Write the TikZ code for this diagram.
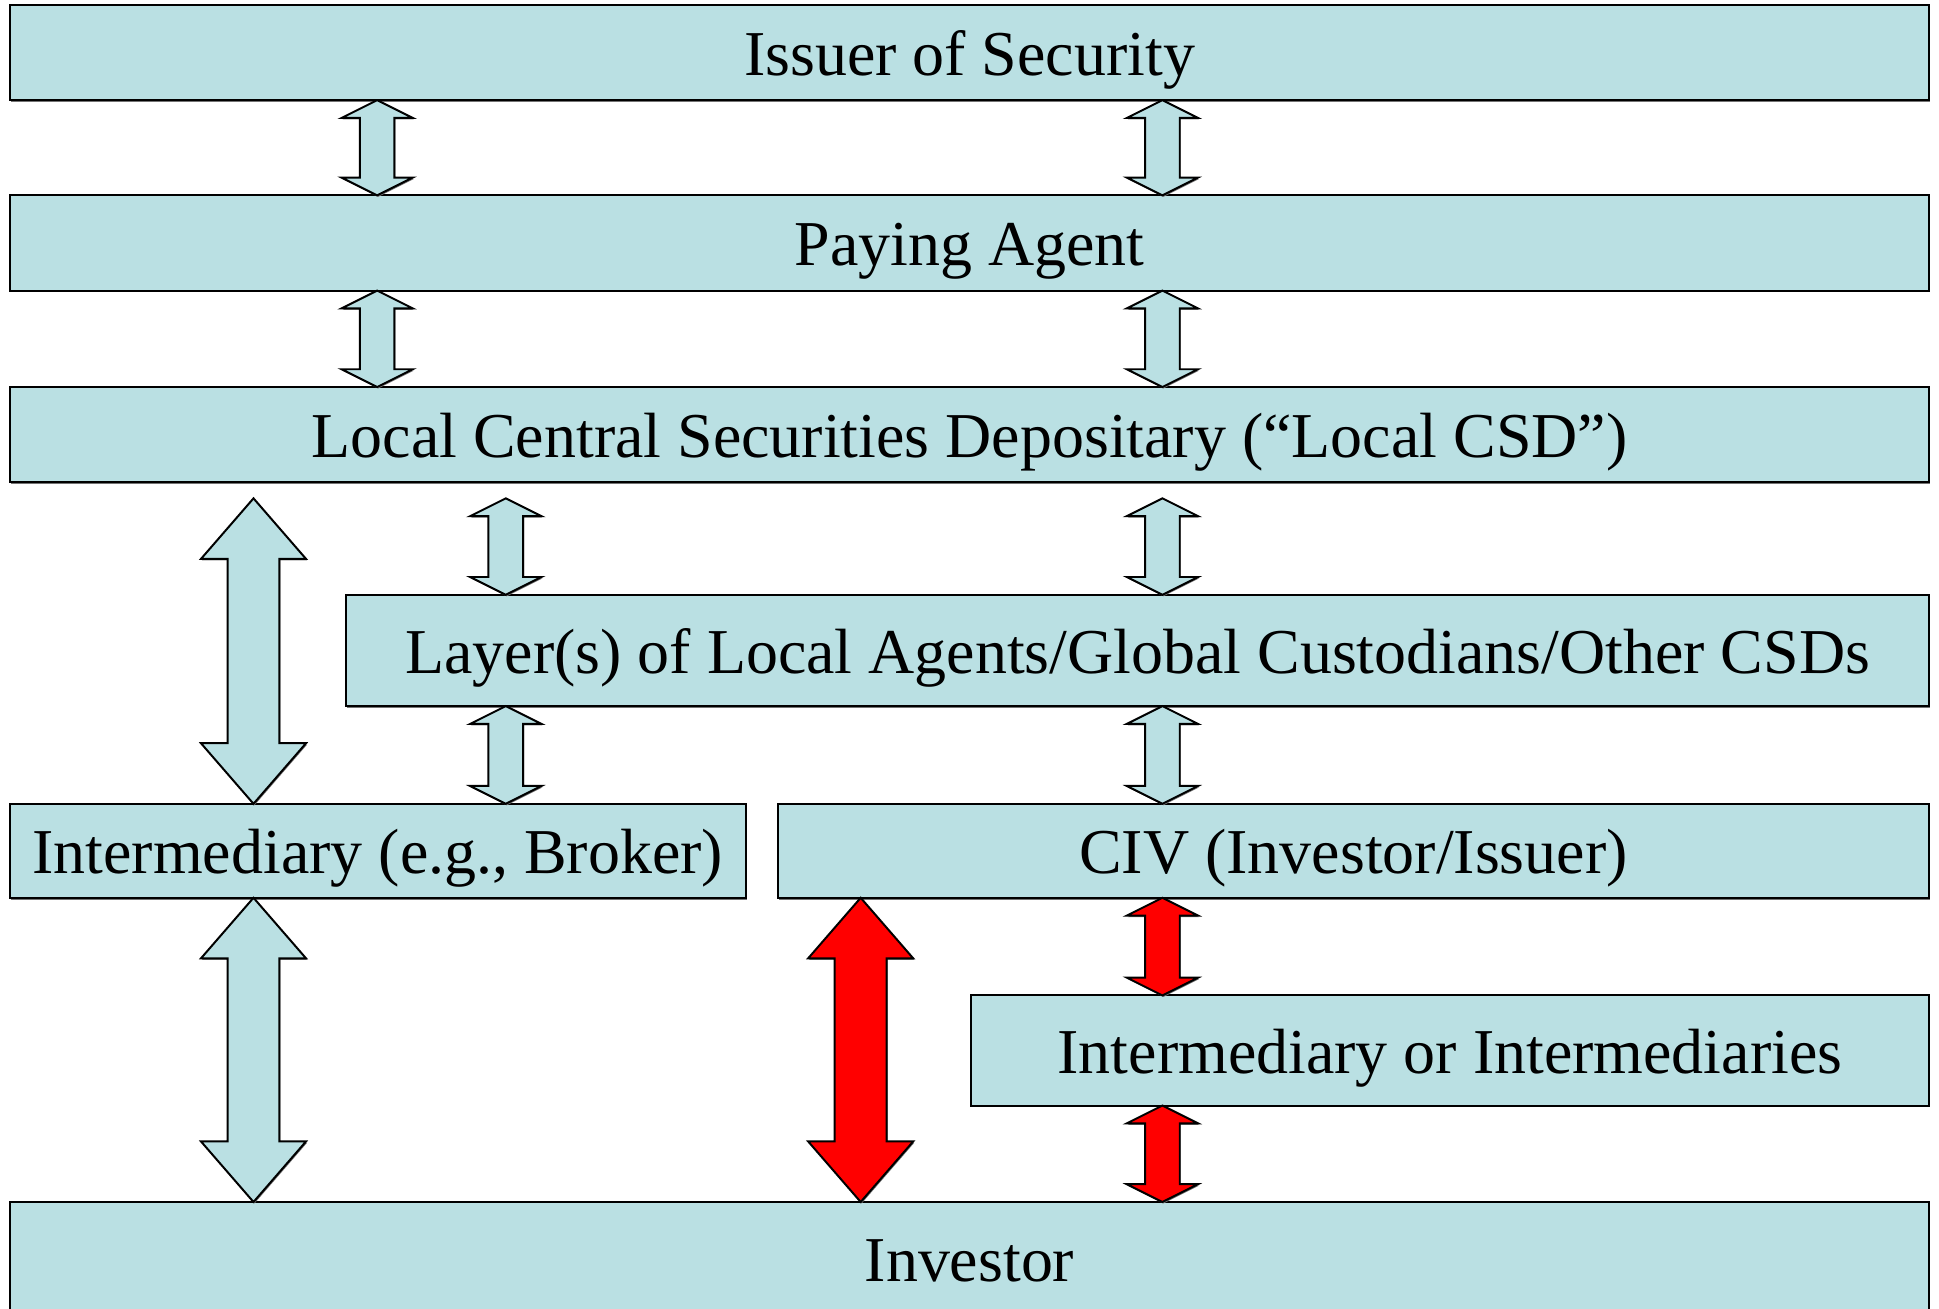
\documentclass[tikz,border=0pt]{standalone}
\usepackage{fontspec}
\setmainfont{Liberation Serif}
\usetikzlibrary{calc}
\usetikzlibrary{shadows}

\definecolor{boxblue}{RGB}{186,224,227}

\begin{document}
\begin{tikzpicture}[
      x = 0.5pt, y = -0.5pt,
      layer/.style = {
        draw = black, line width = 0.8pt, fill = boxblue,
        inner sep = 0, outer sep = 0,
        text height = 18.6pt, text depth = 0pt,
        font = \fontsize{25.85}{30}\selectfont,
        drop shadow = {shadow xshift = 0.4pt, shadow yshift = -0.7pt, fill = black!55, opacity = 1}
      },
      link/.style = {
        draw = black, line width = 0.8pt, line join = miter,
        drop shadow = {shadow xshift = 0.4pt, shadow yshift = -0.6pt, fill = black!55, opacity = 1}
      },
    ]

    \useasboundingbox (0,0) rectangle (1568,1058);

    % boxes, given by left/top/right/bottom
    \foreach \m/\xa/\ya/\xb/\yb/\t in {
        issuer/8/4/1560/81/{Issuer of Security},
        paying/8/158/1560/235/{Paying Agent},
        csd/8/313/1560/390/{Local Central Securities Depositary (“Local CSD”)},
        layers/280/481/1560/571/{Layer(s) of Local Agents/Global Custodians/Other CSDs},
        broker/8/650/603/726/{Intermediary (e.g., Broker)},
        civ/629/650/1560/726/{CIV (Investor/Issuer)},
        inter/785/805/1560/894/{Intermediary or Intermediaries},
        investor/8/972/1560/1064/{Investor}} {
      \node[layer, minimum width = {(\xb-\xa)*0.5pt}, minimum height = {(\yb-\ya)*0.5pt}]
        (\m) at ({(\xa+\xb)/2}, {(\ya+\yb)/2}) {\t};
    }

    % narrow double arrows
    \foreach \c/\a/\b/\g/\f in {
        305/issuer/paying/0/boxblue, 940/issuer/paying/0/boxblue,
        305/paying/csd/0/boxblue, 940/paying/csd/0/boxblue,
        409/csd/layers/13/boxblue, 940/csd/layers/13/boxblue,
        409/layers/broker/0/boxblue, 940/layers/civ/0/boxblue,
        940/civ/inter/0/red, 940/inter/investor/0/red} {
      \draw[link, fill = \f] let \p1 = (\a.south), \p2 = (\b.north),
          \n1 = {\c*0.5pt}, \n2 = {\y1-\g*0.5pt} in
        (\n1,\n2) -- ++(14.4pt,-7.2pt) -- ++(-7.4pt,0pt) -- ({\n1+7pt},{\y2+7.2pt})
        -- ++(7.4pt,0pt) -- (\n1,\y2) -- ++(-14.4pt,7.2pt) -- ++(7.4pt,0pt)
        -- ({\n1-7pt},{\n2-7.2pt}) -- ++(-7.4pt,0pt) -- cycle;
    }

    % wide double arrows
    \foreach \c/\a/\b/\g/\f in {
        205/csd/broker/13/boxblue, 205/broker/investor/0/boxblue,
        696/civ/investor/0/red} {
      \draw[link, fill = \f] let \p1 = (\a.south), \p2 = (\b.north),
          \n1 = {\c*0.5pt}, \n2 = {\y1-\g*0.5pt} in
        (\n1,\n2) -- ++(21.25pt,-24.5pt) -- ++(-10.75pt,0pt) -- ({\n1+10.5pt},{\y2+24.5pt})
        -- ++(10.75pt,0pt) -- (\n1,\y2) -- ++(-21.25pt,24.5pt) -- ++(10.75pt,0pt)
        -- ({\n1-10.5pt},{\n2-24.5pt}) -- ++(-10.75pt,0pt) -- cycle;
    }
\end{tikzpicture}
\end{document}
